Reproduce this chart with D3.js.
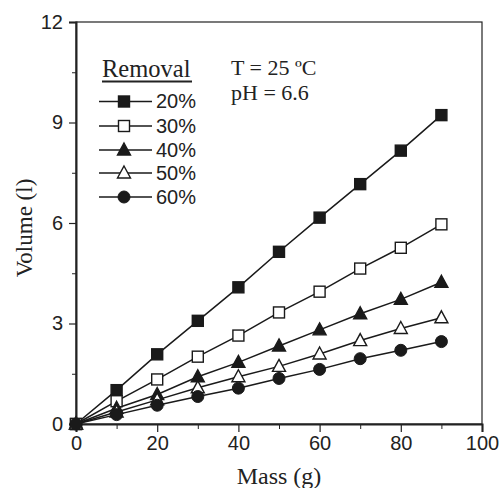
<!DOCTYPE html>
<html>
<head>
<meta charset="utf-8">
<script src="https://cdn.jsdelivr.net/npm/d3@7"></script>
<style>
  body { margin: 0; background: #fff; }
  svg { display: block; }
  .tick text { font-family: "Liberation Sans", Arial, sans-serif; font-size: 20px; fill: #222; }
  .serif { font-family: "Liberation Serif", "Times New Roman", serif; fill: #222; }
</style>
</head>
<body>
<div class="visHolder"></div>
<script>
const width = 501, height = 488;

const mass = [0, 10, 20, 30, 40, 50, 60, 70, 80, 90];
const removal = ["20%", "30%", "40%", "50%", "60%"];
const vol20 = [0, 1.01, 2.08, 3.08, 4.08, 5.14, 6.16, 7.16, 8.16, 9.22];
const vol30 = [0, 0.68, 1.33, 2.01, 2.64, 3.33, 3.95, 4.64, 5.26, 5.96];
const vol40 = [0, 0.47, 0.88, 1.41, 1.84, 2.33, 2.81, 3.29, 3.72, 4.23];
const vol50 = [0, 0.36, 0.72, 1.08, 1.41, 1.72, 2.09, 2.49, 2.85, 3.17];
const vol60 = [0, 0.28, 0.56, 0.82, 1.07, 1.36, 1.63, 1.95, 2.20, 2.46];
const xTicks = [0, 20, 40, 60, 80, 100];
const yTicks = [0, 3, 6, 9, 12];

const series = [vol20, vol30, vol40, vol50, vol60];
const shapes = ["square", "square", "triangle", "triangle", "circle"];
const filled = [true, false, true, false, true];

const mLeft = 76, mRight = 482, mTop = 22, mBottom = 424;

const svg = d3.select(".visHolder")
  .append("svg")
  .attr("width", width)
  .attr("height", height);

const xScale = d3.scaleLinear().domain([0, 100]).range([mLeft, mRight]);
const yScale = d3.scaleLinear().domain([0, 12]).range([mBottom, mTop]);

// frame
svg.append("rect")
  .attr("x", mLeft).attr("y", mTop)
  .attr("width", mRight - mLeft).attr("height", mBottom - mTop)
  .attr("fill", "none").attr("stroke", "#222").attr("stroke-width", 1.2);

// minor ticks
svg.append("g")
  .attr("transform", `translate(0,${mBottom})`)
  .call(d3.axisBottom(xScale).tickValues([10, 30, 50, 70, 90]).tickSize(5).tickFormat(""))
  .call(g => g.select(".domain").remove())
  .selectAll("line").attr("stroke", "#222");
svg.append("g")
  .attr("transform", `translate(${mLeft},0)`)
  .call(d3.axisLeft(yScale).tickValues([1.5, 4.5, 7.5, 10.5]).tickSize(4).tickFormat(""))
  .call(g => g.select(".domain").remove())
  .selectAll("line").attr("stroke", "#222");

// major ticks
const xAxis = svg.append("g")
  .attr("transform", `translate(0,${mBottom})`)
  .call(d3.axisBottom(xScale).tickValues(xTicks).tickSize(8).tickPadding(4))
  .call(g => g.select(".domain").attr("stroke", "#222").attr("stroke-width", 2));
xAxis.selectAll("line").attr("stroke", "#222").attr("stroke-width", 1.2);

const yAxis = svg.append("g")
  .attr("transform", `translate(${mLeft},0)`)
  .call(d3.axisLeft(yScale).tickValues(yTicks).tickSize(7).tickPadding(6))
  .call(g => g.select(".domain").attr("stroke", "#222").attr("stroke-width", 2));
yAxis.selectAll("line").attr("stroke", "#222").attr("stroke-width", 1.2);

// axis titles
svg.append("text")
  .attr("class", "serif")
  .attr("x", 279).attr("y", 484)
  .attr("text-anchor", "middle")
  .attr("font-size", 24)
  .text("Mass (g)");

svg.append("text")
  .attr("class", "serif")
  .attr("transform", "rotate(-90)")
  .attr("x", -228).attr("y", 32)
  .attr("text-anchor", "middle")
  .attr("font-size", 23)
  .text("Volume (l)");

const line = d3.line()
  .x((d, i) => xScale(mass[i]))
  .y(d => yScale(d));

function marker(g, shape, fill, x, y) {
  const f = fill ? "#1a1a1a" : "#fff";
  if (shape === "square") {
    g.append("rect")
      .attr("x", x - 5.5).attr("y", y - 5.5)
      .attr("width", 11).attr("height", 11)
      .attr("fill", f).attr("stroke", "#1a1a1a").attr("stroke-width", 1.4);
  } else if (shape === "triangle") {
    g.append("path")
      .attr("d", `M${x},${y - 7}L${x + 6.5},${y + 5}L${x - 6.5},${y + 5}Z`)
      .attr("fill", f).attr("stroke", "#1a1a1a").attr("stroke-width", 1.4);
  } else {
    g.append("circle")
      .attr("cx", x).attr("cy", y).attr("r", 6)
      .attr("fill", f).attr("stroke", "#1a1a1a").attr("stroke-width", 1);
  }
}

const plot = svg.append("g");
series.forEach((vals, s) => {
  plot.append("path")
    .datum(vals)
    .attr("d", line)
    .attr("fill", "none")
    .attr("stroke", "#1a1a1a")
    .attr("stroke-width", 1.5);
});
series.forEach((vals, s) => {
  vals.forEach((v, i) => marker(plot, shapes[s], filled[s], xScale(mass[i]), yScale(v)));
});

// legend
svg.append("text")
  .attr("class", "serif")
  .attr("x", 102).attr("y", 77)
  .attr("font-size", 24.5)
  .text("Removal");
svg.append("line")
  .attr("x1", 102).attr("x2", 192)
  .attr("y1", 81.5).attr("y2", 81.5)
  .attr("stroke", "#222").attr("stroke-width", 1.8);

const legY = [101.5, 126, 150, 173, 197];
removal.forEach((r, s) => {
  const g = svg.append("g");
  g.append("line")
    .attr("x1", 99).attr("x2", 152)
    .attr("y1", legY[s]).attr("y2", legY[s])
    .attr("stroke", "#1a1a1a").attr("stroke-width", 1.5);
  marker(g, shapes[s], filled[s], 124, legY[s]);
  g.append("text")
    .attr("x", 156).attr("y", legY[s] + 6.5)
    .attr("font-family", "Liberation Sans, Arial, sans-serif")
    .attr("font-size", 20)
    .attr("fill", "#222")
    .text(r);
});

// conditions
svg.append("text")
  .attr("class", "serif")
  .attr("x", 231).attr("y", 75)
  .attr("font-size", 22)
  .text("T = 25 ºC");
svg.append("text")
  .attr("class", "serif")
  .attr("x", 231).attr("y", 100)
  .attr("font-size", 22)
  .text("pH = 6.6");
</script>
</body>
</html>
